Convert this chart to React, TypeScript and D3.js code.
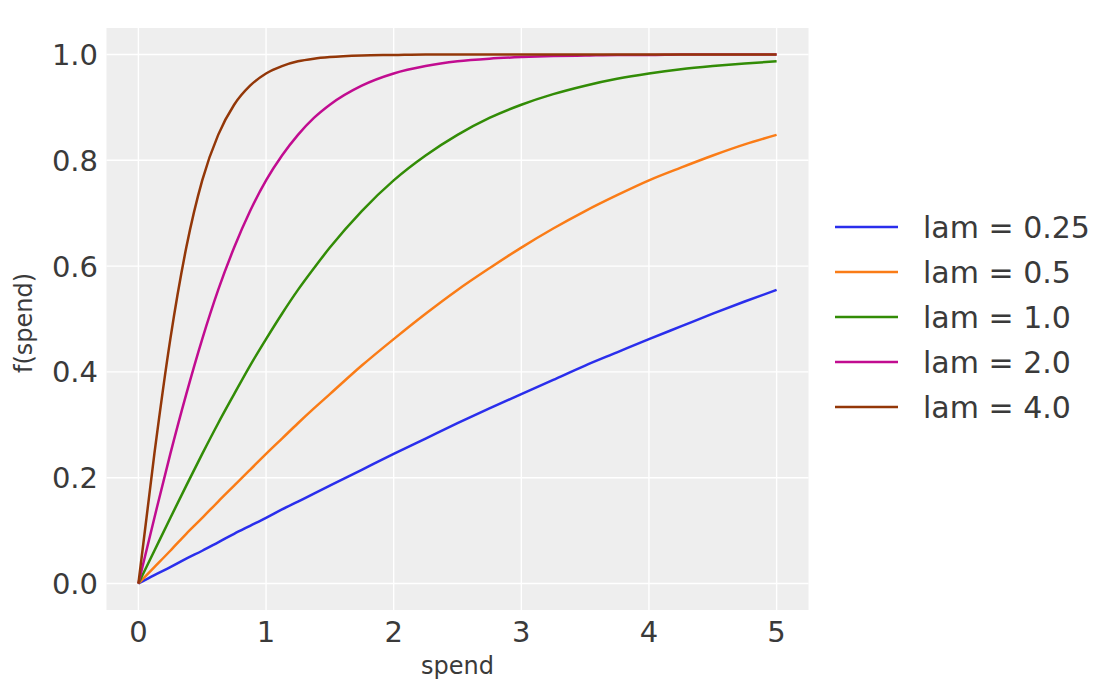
import React from "react";
import * as d3 from "d3";

// spend values where the curves were read (denser where the curves bend fast)
const spend = [
  0, 0.125, 0.25, 0.375, 0.5, 0.625, 0.75, 0.875, 1, 1.125, 1.25, 1.375, 1.5,
  1.75, 2, 2.25, 2.5, 2.75, 3, 3.25, 3.5, 3.75, 4, 4.25, 4.5, 4.75, 5,
];

const lam025 = [
  0, 0.016, 0.031, 0.047, 0.062, 0.078, 0.094, 0.109, 0.124, 0.14, 0.155,
  0.17, 0.185, 0.215, 0.245, 0.274, 0.303, 0.331, 0.358, 0.385, 0.412, 0.437,
  0.462, 0.486, 0.51, 0.533, 0.555,
];
const lam05 = [
  0, 0.031, 0.062, 0.094, 0.124, 0.155, 0.185, 0.215, 0.245, 0.274, 0.303,
  0.331, 0.358, 0.412, 0.462, 0.51, 0.555, 0.596, 0.635, 0.671, 0.704, 0.734,
  0.762, 0.786, 0.809, 0.83, 0.848,
];
const lam1 = [
  0, 0.062, 0.124, 0.185, 0.245, 0.303, 0.358, 0.412, 0.462, 0.51, 0.555,
  0.596, 0.635, 0.704, 0.762, 0.809, 0.848, 0.88, 0.905, 0.925, 0.941, 0.954,
  0.964, 0.972, 0.978, 0.983, 0.987,
];
const lam2 = [
  0, 0.124, 0.245, 0.358, 0.462, 0.555, 0.635, 0.704, 0.762, 0.809, 0.848,
  0.88, 0.905, 0.941, 0.964, 0.978, 0.987, 0.992, 0.995, 0.997, 0.998, 0.999,
  0.999, 1.0, 1.0, 1.0, 1.0,
];
const lam4 = [
  0, 0.245, 0.462, 0.635, 0.762, 0.848, 0.905, 0.941, 0.964, 0.978, 0.987,
  0.992, 0.995, 0.998, 0.999, 1.0, 1.0, 1.0, 1.0, 1.0, 1.0, 1.0, 1.0, 1.0,
  1.0, 1.0, 1.0,
];

const seriesLabels = ["lam = 0.25", "lam = 0.5", "lam = 1.0", "lam = 2.0", "lam = 4.0"];
const seriesValues = [lam025, lam05, lam1, lam2, lam4];
const colors = ["#2a2eec", "#fa7c17", "#328c06", "#c10c90", "#933708"];

const xTicks = [0, 1, 2, 3, 4, 5];
const yTicks = [0, 0.2, 0.4, 0.6, 0.8, 1.0];

const W = 1100;
const H = 692;
const plot = { left: 106.5, right: 808.5, top: 28, bottom: 610 };
const font = "'DejaVu Sans', sans-serif";
const textColor = "#3a3a3a";

const App: React.FC = () => {
  const x = d3.scaleLinear().domain([-0.25, 5.25]).range([plot.left, plot.right]);
  const y = d3.scaleLinear().domain([-0.05, 1.05]).range([plot.bottom, plot.top]);

  const line = d3
    .line<number>()
    .x((_, i) => x(spend[i]))
    .y((d) => y(d))
    .curve(d3.curveMonotoneX);

  const legendX = 835;
  const legendY = 227;
  const legendStep = 45;

  return (
    <svg
      width={W}
      height={H}
      style={{ position: "absolute", left: 0, top: 0, background: "#fff" }}
    >
      <rect
        x={plot.left}
        y={plot.top}
        width={plot.right - plot.left}
        height={plot.bottom - plot.top}
        fill="#eeeeee"
      />
      {xTicks.map((t) => (
        <line
          key={`gx${t}`}
          x1={x(t)}
          x2={x(t)}
          y1={plot.top}
          y2={plot.bottom}
          stroke="#fff"
          strokeWidth={1.4}
        />
      ))}
      {yTicks.map((t) => (
        <line
          key={`gy${t}`}
          x1={plot.left}
          x2={plot.right}
          y1={y(t)}
          y2={y(t)}
          stroke="#fff"
          strokeWidth={1.4}
        />
      ))}

      {seriesValues.map((vals, i) => (
        <path
          key={seriesLabels[i]}
          d={line(vals) ?? ""}
          fill="none"
          stroke={colors[i]}
          strokeWidth={2.5}
          strokeLinejoin="round"
        />
      ))}

      {xTicks.map((t) => (
        <text
          key={`tx${t}`}
          x={x(t)}
          y={642}
          textAnchor="middle"
          fontFamily={font}
          fontSize={29}
          fill={textColor}
        >
          {d3.format("d")(t)}
        </text>
      ))}
      {yTicks.map((t) => (
        <text
          key={`ty${t}`}
          x={98}
          y={y(t)}
          dy="0.36em"
          textAnchor="end"
          fontFamily={font}
          fontSize={29}
          fill={textColor}
        >
          {d3.format(".1f")(t)}
        </text>
      ))}

      <text
        x={457.5}
        y={674}
        textAnchor="middle"
        fontFamily={font}
        fontSize={24}
        fill={textColor}
      >
        spend
      </text>
      <text
        transform={`translate(32,${323}) rotate(-90)`}
        textAnchor="middle"
        fontFamily={font}
        fontSize={24}
        fill={textColor}
      >
        f(spend)
      </text>

      {seriesLabels.map((label, i) => (
        <g key={`lg${label}`} transform={`translate(${legendX},${legendY + i * legendStep})`}>
          <line x1={0} x2={63} y1={0} y2={0} stroke={colors[i]} strokeWidth={2.6} />
          <text
            x={88}
            y={0}
            dy="0.36em"
            fontFamily={font}
            fontSize={30}
            fill={textColor}
          >
            {label}
          </text>
        </g>
      ))}
    </svg>
  );
};

export default App;
